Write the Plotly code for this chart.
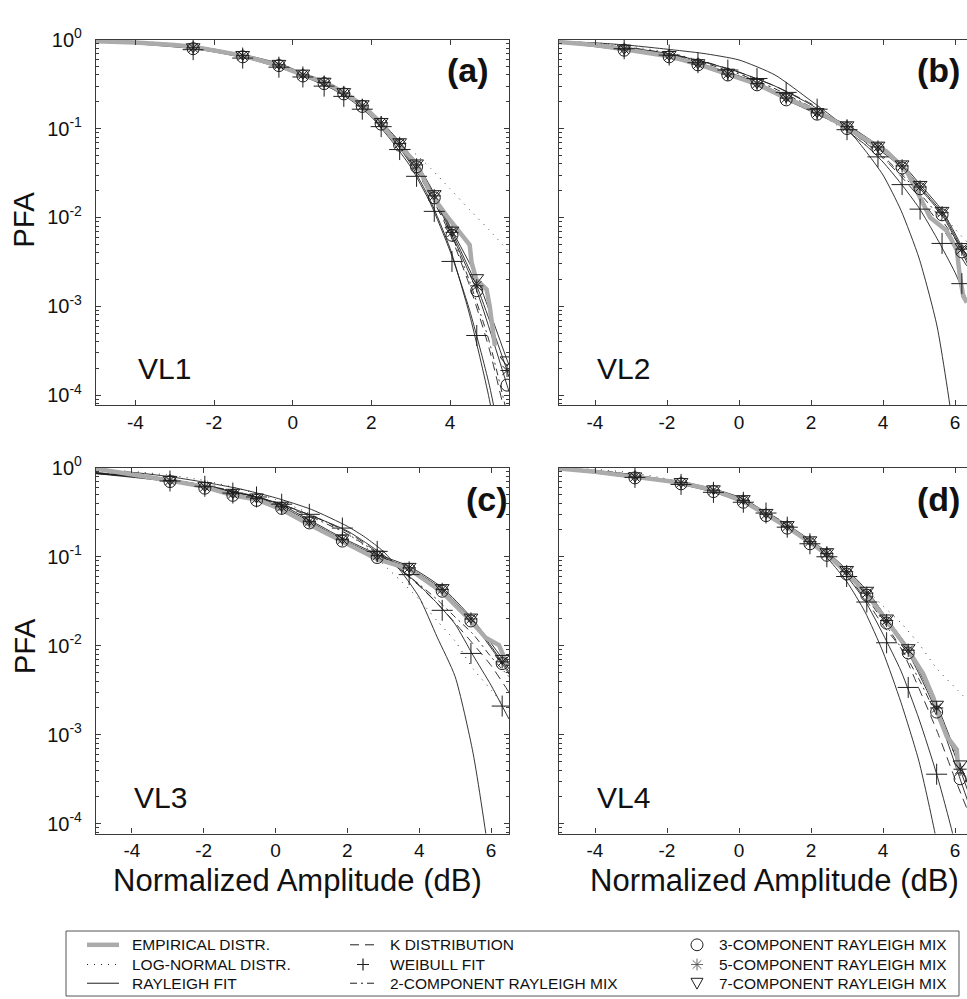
import plotly.graph_objects as go

# ---------------- (a) VL1 ----------------
X_EMP_A = [-5.0, -4.0, -3.0, -2.53, -1.26, -0.35, 0.26, 0.82, 1.33, 1.79, 2.22, 2.55, 3.16, 3.49, 3.91, 4.25, 4.5, 4.55, 4.67, 4.93, 5.01, 5.14]
EMP_A = [0.96, 0.93, 0.87, 0.83, 0.66, 0.51, 0.40, 0.33, 0.25, 0.18, 0.118, 0.077, 0.04, 0.019, 0.0105, 0.0066, 0.0049, 0.0031, 0.002, 0.00155, 0.001, 0.00036]
GRID_A = [-5, -4, -3, -2, -1, 0, 1, 1.5, 2, 2.5, 3, 3.5, 4, 4.5, 5, 5.5]
LN_A = [0.985, 0.955, 0.895, 0.785, 0.63, 0.455, 0.295, 0.22, 0.15, 0.088, 0.058, 0.036, 0.021, 0.0122, 0.0072, 0.0041]
RAY_A = [0.975, 0.945, 0.885, 0.78, 0.625, 0.45, 0.29, 0.215, 0.145, 0.082, 0.04, 0.0155, 0.0045, 0.0008, 0.00009, 0.000005]
K_A = [0.97, 0.94, 0.875, 0.77, 0.62, 0.45, 0.30, 0.225, 0.15, 0.085, 0.042, 0.018, 0.0065, 0.0017, 0.00033, 0.00004]
WB_A = [0.96, 0.92, 0.85, 0.73, 0.59, 0.43, 0.28, 0.205, 0.135, 0.074, 0.037, 0.0145, 0.0042, 0.0009, 0.00013, 0.00001]
RM2_A = [0.97, 0.94, 0.875, 0.77, 0.62, 0.45, 0.30, 0.225, 0.15, 0.086, 0.043, 0.019, 0.007, 0.0019, 0.0004, 0.00005]
MIX_X_A = [-5.0, -2.53, -1.27, -0.35, 0.26, 0.8, 1.3, 1.77, 2.25, 2.72, 3.15, 3.6, 4.05, 4.68, 5.45, 5.5]
RM3_A = [0.97, 0.79, 0.64, 0.51, 0.39, 0.32, 0.245, 0.177, 0.112, 0.065, 0.037, 0.0166, 0.0063, 0.0015, 0.00013, 0.00011]
RM5_A = [0.975, 0.81, 0.66, 0.52, 0.40, 0.33, 0.25, 0.18, 0.116, 0.068, 0.039, 0.0175, 0.0068, 0.0017, 0.00019, 0.00016]
RM7_A = [0.98, 0.83, 0.68, 0.54, 0.42, 0.34, 0.26, 0.19, 0.12, 0.071, 0.041, 0.0185, 0.0072, 0.0021, 0.00025, 0.00022]
WB_MK_A = [0.77, 0.62, 0.49, 0.38, 0.30, 0.23, 0.165, 0.105, 0.058, 0.029, 0.0117, 0.0032, 0.00047, 0.00003]

# ---------------- (b) VL2 ----------------
X_EMP_B = [-5.0, -4.0, -3.19, -1.94, -1.14, -0.31, 0.5, 1.31, 1.8, 2.25, 2.81, 3.36, 4.1, 4.66, 5.03, 5.31, 5.77, 6.05, 6.14, 6.23, 6.33]
EMP_B = [0.94, 0.87, 0.78, 0.65, 0.53, 0.41, 0.315, 0.22, 0.18, 0.151, 0.112, 0.083, 0.055, 0.033, 0.0166, 0.01, 0.0071, 0.0043, 0.0021, 0.0013, 0.0011]
GRID_B = [-5, -4, -3, -2, -1, 0, 1, 2, 2.5, 3, 3.5, 4, 4.5, 5, 5.5, 6, 6.5]
LN_B = [0.96, 0.92, 0.84, 0.72, 0.57, 0.42, 0.28, 0.17, 0.125, 0.092, 0.066, 0.046, 0.032, 0.021, 0.0132, 0.0074, 0.0045]
RAY_B = [0.95, 0.92, 0.86, 0.78, 0.70, 0.59, 0.40, 0.205, 0.145, 0.10, 0.057, 0.03, 0.012, 0.0035, 0.0006, 0.00003, 0.0000003]
K_B = [0.93, 0.89, 0.81, 0.70, 0.57, 0.43, 0.30, 0.19, 0.14, 0.10, 0.07, 0.047, 0.029, 0.017, 0.0092, 0.0046, 0.0022]
WB_B = [0.93, 0.88, 0.80, 0.70, 0.565, 0.43, 0.30, 0.185, 0.135, 0.094, 0.066, 0.042, 0.024, 0.0128, 0.0058, 0.0024, 0.0008]
RM2_B = [0.93, 0.88, 0.80, 0.69, 0.55, 0.41, 0.28, 0.175, 0.135, 0.10, 0.071, 0.049, 0.031, 0.019, 0.011, 0.0058, 0.003]
MIX_X_B = [-5.0, -3.19, -1.94, -1.14, -0.31, 0.5, 1.31, 2.17, 3.0, 3.86, 4.53, 5.03, 5.64, 6.19, 6.5]
RM3_B = [0.93, 0.76, 0.64, 0.52, 0.40, 0.31, 0.21, 0.145, 0.1, 0.059, 0.036, 0.021, 0.0107, 0.0041, 0.0022]
RM5_B = [0.935, 0.78, 0.66, 0.53, 0.41, 0.32, 0.22, 0.15, 0.105, 0.062, 0.038, 0.022, 0.0113, 0.0044, 0.0024]
RM7_B = [0.94, 0.80, 0.68, 0.55, 0.43, 0.33, 0.23, 0.155, 0.11, 0.065, 0.04, 0.0235, 0.012, 0.0047, 0.0026]
WB_MK_B = [0.79, 0.67, 0.55, 0.455, 0.365, 0.255, 0.165, 0.097, 0.048, 0.0234, 0.0124, 0.0051, 0.0018]

# ---------------- (c) VL3 ----------------
X_EMP_C = [-5.0, -4.0, -2.94, -1.97, -1.19, -0.53, 0.17, 0.94, 1.86, 2.83, 3.72, 4.64, 5.44, 5.85, 6.22, 6.44]
EMP_C = [0.975, 0.85, 0.72, 0.61, 0.49, 0.44, 0.34, 0.23, 0.15, 0.094, 0.073, 0.04, 0.019, 0.0123, 0.0102, 0.0063]
GRID_C = [-5, -4, -3, -2, -1, 0, 1, 2, 2.5, 3, 3.5, 4, 4.5, 5, 5.5, 6, 6.5]
LN_C = [0.96, 0.91, 0.83, 0.72, 0.58, 0.44, 0.30, 0.18, 0.13, 0.082, 0.053, 0.033, 0.019, 0.0113, 0.0055, 0.0032, 0.0018]
RAY_C = [0.94, 0.89, 0.80, 0.69, 0.58, 0.46, 0.34, 0.22, 0.165, 0.115, 0.068, 0.035, 0.0125, 0.0045, 0.00062, 0.00003, 0.0000005]
K_C = [0.88, 0.82, 0.74, 0.64, 0.53, 0.41, 0.29, 0.19, 0.14, 0.10, 0.07, 0.047, 0.03, 0.018, 0.0105, 0.006, 0.003]
WB_C = [0.86, 0.80, 0.72, 0.63, 0.52, 0.41, 0.29, 0.195, 0.145, 0.105, 0.072, 0.048, 0.03, 0.0175, 0.0078, 0.0036, 0.0015]
RM2_C = [0.87, 0.81, 0.73, 0.63, 0.52, 0.40, 0.28, 0.18, 0.135, 0.098, 0.07, 0.049, 0.033, 0.021, 0.0135, 0.0075, 0.0045]
MIX_X_C = [-5.0, -2.94, -1.97, -1.19, -0.53, 0.17, 0.94, 1.86, 2.83, 3.72, 4.64, 5.44, 6.31, 6.5]
RM3_C = [0.86, 0.70, 0.59, 0.49, 0.43, 0.35, 0.24, 0.15, 0.098, 0.072, 0.041, 0.019, 0.0063, 0.0048]
RM5_C = [0.87, 0.72, 0.61, 0.51, 0.45, 0.365, 0.25, 0.157, 0.103, 0.075, 0.043, 0.02, 0.0066, 0.0051]
RM7_C = [0.88, 0.74, 0.63, 0.53, 0.47, 0.38, 0.26, 0.163, 0.107, 0.078, 0.045, 0.021, 0.0072, 0.0055]
WB_MK_C = [0.71, 0.62, 0.52, 0.47, 0.39, 0.30, 0.21, 0.115, 0.063, 0.025, 0.0082, 0.0021]

# ---------------- (d) VL4 ----------------
X_EMP_D = [-5.0, -4.0, -2.89, -1.61, -0.71, 0.12, 0.75, 1.34, 1.97, 2.44, 2.99, 3.55, 3.92, 4.66, 5.12, 5.40, 5.58, 5.77, 6.05, 6.09]
EMP_D = [0.98, 0.9, 0.79, 0.68, 0.56, 0.42, 0.30, 0.215, 0.145, 0.107, 0.066, 0.038, 0.024, 0.0095, 0.0048, 0.0026, 0.0015, 0.00096, 0.00068, 0.00041]
GRID_D = [-5, -4, -3, -2, -1, 0, 1, 2, 2.5, 3, 3.5, 4, 4.5, 5, 5.5, 6, 6.5]
LN_D = [0.99, 0.96, 0.88, 0.75, 0.59, 0.42, 0.26, 0.14, 0.098, 0.065, 0.044, 0.028, 0.018, 0.0105, 0.0055, 0.0034, 0.0021]
RAY_D = [0.97, 0.93, 0.84, 0.72, 0.58, 0.43, 0.27, 0.14, 0.092, 0.052, 0.024, 0.0085, 0.0023, 0.0005, 0.00006, 0.000003, 0.0000001]
K_D = [0.97, 0.93, 0.84, 0.72, 0.58, 0.43, 0.27, 0.145, 0.1, 0.062, 0.034, 0.017, 0.0093, 0.0033, 0.0011, 0.00032, 0.0001]
WB_D = [0.97, 0.92, 0.82, 0.70, 0.57, 0.43, 0.26, 0.14, 0.097, 0.06, 0.032, 0.0135, 0.0052, 0.0015, 0.00035, 0.00006, 0.000005]
RM2_D = [0.97, 0.93, 0.84, 0.72, 0.58, 0.43, 0.28, 0.15, 0.105, 0.066, 0.037, 0.019, 0.0095, 0.0042, 0.0016, 0.0006, 0.0002]
MIX_X_D = [-5.0, -2.89, -1.61, -0.71, 0.12, 0.75, 1.34, 1.97, 2.44, 2.99, 3.55, 4.10, 4.70, 5.49, 6.14, 6.5]
RM3_D = [0.98, 0.77, 0.66, 0.54, 0.41, 0.29, 0.21, 0.14, 0.104, 0.064, 0.037, 0.018, 0.0083, 0.0018, 0.00032, 0.00012]
RM5_D = [0.98, 0.79, 0.68, 0.56, 0.43, 0.30, 0.22, 0.148, 0.109, 0.068, 0.039, 0.0192, 0.0089, 0.0020, 0.00041, 0.00016]
RM7_D = [0.985, 0.81, 0.70, 0.58, 0.45, 0.315, 0.23, 0.155, 0.114, 0.072, 0.042, 0.0205, 0.0095, 0.0022, 0.00047, 0.0002]
WB_MK_D = [0.78, 0.65, 0.53, 0.41, 0.31, 0.215, 0.14, 0.10, 0.06, 0.031, 0.0108, 0.0034, 0.00036, 0.00004]

# ---------------- axes / labels ----------------
X_TICKS = [-4, -2, 0, 2, 4, 6]
X_TICK_TEXT = ["-4", "-2", "0", "2", "4", "6"]
Y_TICKS = [1e-4, 1e-3, 1e-2, 1e-1, 1]
Y_TICK_TEXT = ["10<sup>-4</sup>", "10<sup>-3</sup>", "10<sup>-2</sup>", "10<sup>-1</sup>", "10<sup>0</sup>"]
Y_MINOR = [m * 10.0 ** e for e in range(-5, 0) for m in range(2, 10)]
PANEL_TAGS = ["(a)", "(b)", "(c)", "(d)"]
SITE_NAMES = ["VL1", "VL2", "VL3", "VL4"]
X_TITLE = "Normalized Amplitude (dB)"
Y_TITLE = "PFA"

NAMES = {
    "emp": "EMPIRICAL DISTR.",
    "ln": "LOG-NORMAL DISTR.",
    "ray": "RAYLEIGH FIT",
    "k": "K DISTRIBUTION",
    "wb": "WEIBULL FIT",
    "rm2": "2-COMPONENT RAYLEIGH MIX",
    "rm3": "3-COMPONENT RAYLEIGH MIX",
    "rm5": "5-COMPONENT RAYLEIGH MIX",
    "rm7": "7-COMPONENT RAYLEIGH MIX",
}
# key layout: three columns of three entries
KEY_COLUMNS = [["emp", "ln", "ray"], ["k", "wb", "rm2"], ["rm3", "rm5", "rm7"]]

W, H = 967, 999
FONT = "Liberation Sans, Arial, Helvetica, sans-serif"
INK = "#1e1e1e"
AXC = "#3a3a3a"
GRAY = "#ababab"
DASHES = {"ln": "1px,6px", "k": "9px,6px", "rm2": "7px,4px,2px,4px"}


def px(p):
    return p / W


def py(p):
    return 1 - p / H


panels = [
    dict(xe=X_EMP_A, ye=EMP_A, grid=GRID_A, ln=LN_A, ray=RAY_A, k=K_A, wb=WB_A, rm2=RM2_A,
         mx=MIX_X_A, rm3=RM3_A, rm5=RM5_A, rm7=RM7_A, wbm=WB_MK_A),
    dict(xe=X_EMP_B, ye=EMP_B, grid=GRID_B, ln=LN_B, ray=RAY_B, k=K_B, wb=WB_B, rm2=RM2_B,
         mx=MIX_X_B, rm3=RM3_B, rm5=RM5_B, rm7=RM7_B, wbm=WB_MK_B),
    dict(xe=X_EMP_C, ye=EMP_C, grid=GRID_C, ln=LN_C, ray=RAY_C, k=K_C, wb=WB_C, rm2=RM2_C,
         mx=MIX_X_C, rm3=RM3_C, rm5=RM5_C, rm7=RM7_C, wbm=WB_MK_C),
    dict(xe=X_EMP_D, ye=EMP_D, grid=GRID_D, ln=LN_D, ray=RAY_D, k=K_D, wb=WB_D, rm2=RM2_D,
         mx=MIX_X_D, rm3=RM3_D, rm5=RM5_D, rm7=RM7_D, wbm=WB_MK_D),
]

fig = go.Figure()

for i, p in enumerate(panels):
    xa = "x" if i == 0 else f"x{i + 1}"
    ya = "y" if i == 0 else f"y{i + 1}"

    def curve(x, y, key, dash="solid"):
        fig.add_trace(go.Scatter(
            x=x, y=y, mode="lines", name=NAMES[key], xaxis=xa, yaxis=ya,
            line=dict(color=INK, width=0.9, dash=dash, shape="spline", smoothing=0.6),
            showlegend=False, hoverinfo="skip"))

    # fitted model curves
    curve(p["grid"], p["ln"], "ln", dash=DASHES["ln"])
    curve(p["grid"], p["ray"], "ray")
    curve(p["grid"], p["k"], "k", dash=DASHES["k"])
    curve(p["grid"], p["rm2"], "rm2", dash=DASHES["rm2"])
    curve(p["grid"], p["wb"], "wb")
    curve(p["mx"], p["rm3"], "rm3")
    curve(p["mx"], p["rm5"], "rm5")
    curve(p["mx"], p["rm7"], "rm7")

    # empirical distribution
    fig.add_trace(go.Scatter(
        x=p["xe"], y=p["ye"], mode="lines", name=NAMES["emp"], xaxis=xa, yaxis=ya,
        line=dict(color=GRAY, width=4.5), showlegend=False, hoverinfo="skip"))

    # markers on the fitted curves
    mxs = p["mx"][1:-1]
    marker_sets = [
        ("wb", p["wbm"], "cross-thin-open", 15),
        ("rm3", p["rm3"][1:-1], "circle-open", 12),
        ("rm5", p["rm5"][1:-1], "asterisk-open", 11),
        ("rm7", p["rm7"][1:-1], "triangle-down-open", 12),
    ]
    for key, my, sym, size in marker_sets:
        fig.add_trace(go.Scatter(
            x=mxs, y=my, mode="markers", name=NAMES[key], xaxis=xa, yaxis=ya,
            marker=dict(symbol=sym, size=size, color=INK, line=dict(color=INK, width=1)),
            showlegend=False, hoverinfo="skip"))

# ---------------- layout ----------------
LEFT_DOM = [px(96), px(509)]
RIGHT_DOM = [px(559), 1.0]
TOP_DOM = [py(397), py(26)]
BOT_DOM = [py(832), py(460.7)]
X_RANGES = [[-5, 5.5], [-5, 6.333], [-5, 6.5], [-5, 6.333]]


def xaxis(dom, rng, anchor):
    return dict(domain=dom, range=rng, anchor=anchor, showline=True, linecolor=AXC, linewidth=1.2,
                mirror="ticks", ticks="inside", ticklen=5, tickwidth=1, tickcolor=AXC,
                tickvals=X_TICKS, ticktext=X_TICK_TEXT, showgrid=False, zeroline=False,
                ticklabelstandoff=0,
                tickfont=dict(family=FONT, size=19, color="#111"))


def yaxis(dom, anchor, labels, mirror):
    return dict(domain=dom, type="log", range=[-4.11, 0], anchor=anchor, showline=True,
                linecolor=AXC, linewidth=1.2, mirror=mirror, ticks="inside", ticklen=5,
                tickwidth=1, tickcolor=AXC, tickvals=Y_TICKS, ticktext=Y_TICK_TEXT,
                showticklabels=labels, showgrid=False, zeroline=False, ticklabelstandoff=9,
                minor=dict(tickvals=Y_MINOR, ticks="inside", ticklen=3, tickcolor=AXC, showgrid=False),
                tickfont=dict(family=FONT, size=20, color="#111"))


annotations = []
shapes = []
tag_pos = [(491, 57), (962, 57), (510, 492), (962, 492)]
site_pos = [(136, 360), (595, 360), (132, 795), (595, 795)]
for tag, (tx, ty) in zip(PANEL_TAGS, tag_pos):
    annotations.append(dict(text=f"<b>{tag}</b>", x=px(tx), y=py(ty), xref="paper", yref="paper",
                            xanchor="right", yanchor="middle", showarrow=False,
                            font=dict(family=FONT, size=34, color="#111")))
for name, (sx, sy) in zip(SITE_NAMES, site_pos):
    annotations.append(dict(text=name, x=px(sx), y=py(sy), xref="paper", yref="paper",
                            xanchor="left", yanchor="middle", showarrow=False,
                            font=dict(family=FONT, size=30, color="#111")))
for cy in (209, 642):
    annotations.append(dict(text=Y_TITLE, x=px(24), y=py(cy), xref="paper", yref="paper",
                            xanchor="center", yanchor="middle", textangle=-90, showarrow=False,
                            font=dict(family=FONT, size=29.5, color="#111")))
for cx in (297, 774):
    annotations.append(dict(text=X_TITLE, x=px(cx), y=py(880), xref="paper", yref="paper",
                            xanchor="center", yanchor="middle", showarrow=False,
                            font=dict(family=FONT, size=31, color="#111")))

# ---------------- boxed key below the panels ----------------
KEY_ROWS = [945, 965, 984]
KEY_SAMPLE = [(87, 119), (350, 376), (697, 697)]
KEY_TEXT_X = [130, 388, 717]


def seg(x0, y0, x1, y1):
    return f"M{px(x0)},{py(y0)} L{px(x1)},{py(y1)}"


for col, keys in enumerate(KEY_COLUMNS):
    sx0, sx1 = KEY_SAMPLE[col]
    cx = (sx0 + sx1) / 2
    for row, key in enumerate(keys):
        ry = KEY_ROWS[row]
        annotations.append(dict(text=NAMES[key], x=px(KEY_TEXT_X[col]), y=py(ry), xref="paper",
                                yref="paper", xanchor="left", yanchor="middle", showarrow=False,
                                font=dict(family=FONT, size=15.5, color="#111")))
        if key == "emp":
            shapes.append(dict(type="line", xref="paper", yref="paper", x0=px(sx0), x1=px(sx1),
                               y0=py(ry), y1=py(ry), line=dict(color=GRAY, width=4.5)))
        elif key in ("ln", "ray", "k", "rm2"):
            shapes.append(dict(type="line", xref="paper", yref="paper", x0=px(sx0), x1=px(sx1),
                               y0=py(ry), y1=py(ry),
                               line=dict(color=INK, width=1, dash=DASHES.get(key, "solid"))))
        elif key == "wb":
            shapes.append(dict(type="path", xref="paper", yref="paper",
                               path=seg(cx - 6, ry, cx + 6, ry) + " " + seg(cx, ry - 6, cx, ry + 6),
                               line=dict(color=INK, width=1.2)))
        elif key == "rm3":
            shapes.append(dict(type="circle", xref="paper", yref="paper", x0=px(cx - 6), x1=px(cx + 6),
                               y0=py(ry + 6), y1=py(ry - 6), line=dict(color=INK, width=1)))
        elif key == "rm5":
            r, d = 6, 4.3
            shapes.append(dict(type="path", xref="paper", yref="paper",
                               path=" ".join([seg(cx - r, ry, cx + r, ry), seg(cx, ry - r, cx, ry + r),
                                              seg(cx - d, ry - d, cx + d, ry + d),
                                              seg(cx - d, ry + d, cx + d, ry - d)]),
                               line=dict(color="#555", width=0.9)))
        elif key == "rm7":
            shapes.append(dict(type="path", xref="paper", yref="paper",
                               path=f"M{px(cx - 6)},{py(ry - 5)} L{px(cx + 6)},{py(ry - 5)} "
                                    f"L{px(cx)},{py(ry + 6)} Z",
                               line=dict(color=INK, width=1)))

shapes.append(dict(type="rect", xref="paper", yref="paper", x0=px(66), x1=px(959),
                   y0=py(997), y1=py(931), line=dict(color="#555", width=1)))

fig.update_layout(
    width=W, height=H,
    margin=dict(l=0, r=0, t=0, b=0),
    paper_bgcolor="white", plot_bgcolor="white",
    showlegend=False,
    xaxis=xaxis(LEFT_DOM, X_RANGES[0], "y"),
    xaxis2=xaxis(RIGHT_DOM, X_RANGES[1], "y2"),
    xaxis3=xaxis(LEFT_DOM, X_RANGES[2], "y3"),
    xaxis4=xaxis(RIGHT_DOM, X_RANGES[3], "y4"),
    yaxis=yaxis(TOP_DOM, "x", True, "ticks"),
    yaxis2=yaxis(TOP_DOM, "x2", False, False),
    yaxis3=yaxis(BOT_DOM, "x3", True, "ticks"),
    yaxis4=yaxis(BOT_DOM, "x4", False, False),
    annotations=annotations,
    shapes=shapes,
)

fig.write_html("out.html")
